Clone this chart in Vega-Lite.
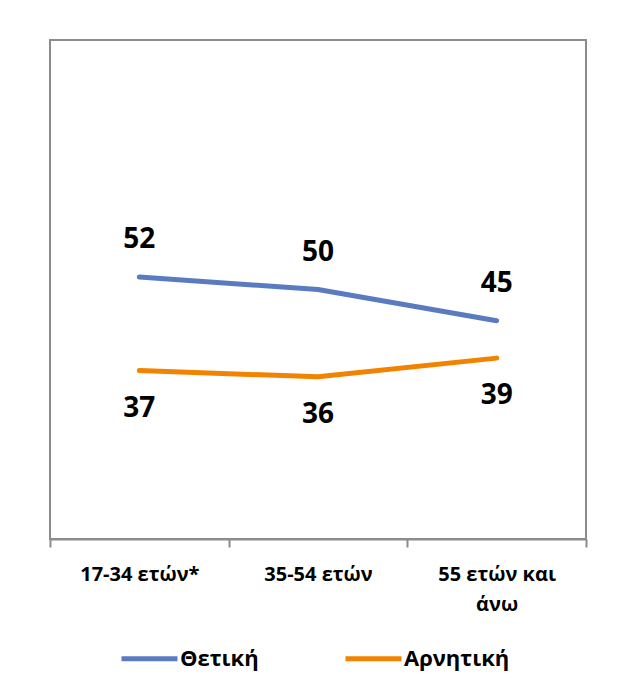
{
  "$schema": "https://vega.github.io/schema/vega-lite/v6.json",
  "autosize": {"type": "none"},
  "width": 536,
  "height": 499,
  "padding": {"left": 50, "top": 40, "right": 36, "bottom": 161},
  "background": "white",
  "config": {
    "view": {"stroke": "#8c8c8c", "strokeWidth": 2},
    "font": "Open Sans"
  },
  "data": {
    "values": [
      {"age": "17-34 ετών*", "series": "Θετική", "value": 52},
      {"age": "35-54 ετών", "series": "Θετική", "value": 50},
      {"age": "55 ετών και άνω", "series": "Θετική", "value": 45},
      {"age": "17-34 ετών*", "series": "Αρνητική", "value": 37},
      {"age": "35-54 ετών", "series": "Αρνητική", "value": 36},
      {"age": "55 ετών και άνω", "series": "Αρνητική", "value": 39}
    ]
  },
  "encoding": {
    "x": {
      "field": "age",
      "type": "nominal",
      "sort": null,
      "scale": {"paddingInner": 0, "paddingOuter": 0},
      "axis": {
        "title": null,
        "labelAngle": 0,
        "labelFont": "Open Sans",
        "labelFontWeight": "bold",
        "labelFontSize": 20,
        "labelColor": "#000000",
        "labelPadding": 17,
        "labelLineHeight": 30,
        "labelExpr": "datum.label == '55 ετών και άνω' ? ['55 ετών και', 'άνω'] : datum.label",
        "domainColor": "#8c8c8c",
        "domainWidth": 2,
        "tickColor": "#8c8c8c",
        "tickWidth": 2,
        "tickSize": 8,
        "tickBand": "extent",
        "grid": false
      }
    },
    "y": {
      "field": "value",
      "type": "quantitative",
      "scale": {"domain": [10, 90], "nice": false, "zero": false},
      "axis": null
    }
  },
  "layer": [
    {
      "mark": {"type": "line", "strokeWidth": 5, "strokeCap": "round", "strokeJoin": "round"},
      "encoding": {
        "color": {
          "field": "series",
          "type": "nominal",
          "scale": {"domain": ["Θετική", "Αρνητική"], "range": ["#5b7bc0", "#f28300"]},
          "legend": {
            "title": null,
            "orient": "none",
            "direction": "horizontal",
            "legendX": 69,
            "legendY": 588,
            "symbolType": "stroke",
            "symbolSize": 3136,
            "symbolStrokeWidth": 5,
            "labelFont": "Open Sans",
            "labelFontWeight": "bold",
            "labelFontSize": 22,
            "labelColor": "#000000",
            "labelOffset": 0,
            "columnPadding": 76,
            "padding": 0
          }
        }
      }
    },
    {
      "transform": [{"filter": "datum.series == 'Θετική'"}],
      "mark": {"type": "text", "dy": -37, "fontSize": 28, "fontWeight": "bold", "font": "Open Sans", "color": "#000000"},
      "encoding": {"text": {"field": "value", "type": "quantitative"}}
    },
    {
      "transform": [{"filter": "datum.series == 'Αρνητική'"}],
      "mark": {"type": "text", "dy": 38, "fontSize": 28, "fontWeight": "bold", "font": "Open Sans", "color": "#000000"},
      "encoding": {"text": {"field": "value", "type": "quantitative"}}
    }
  ]
}
